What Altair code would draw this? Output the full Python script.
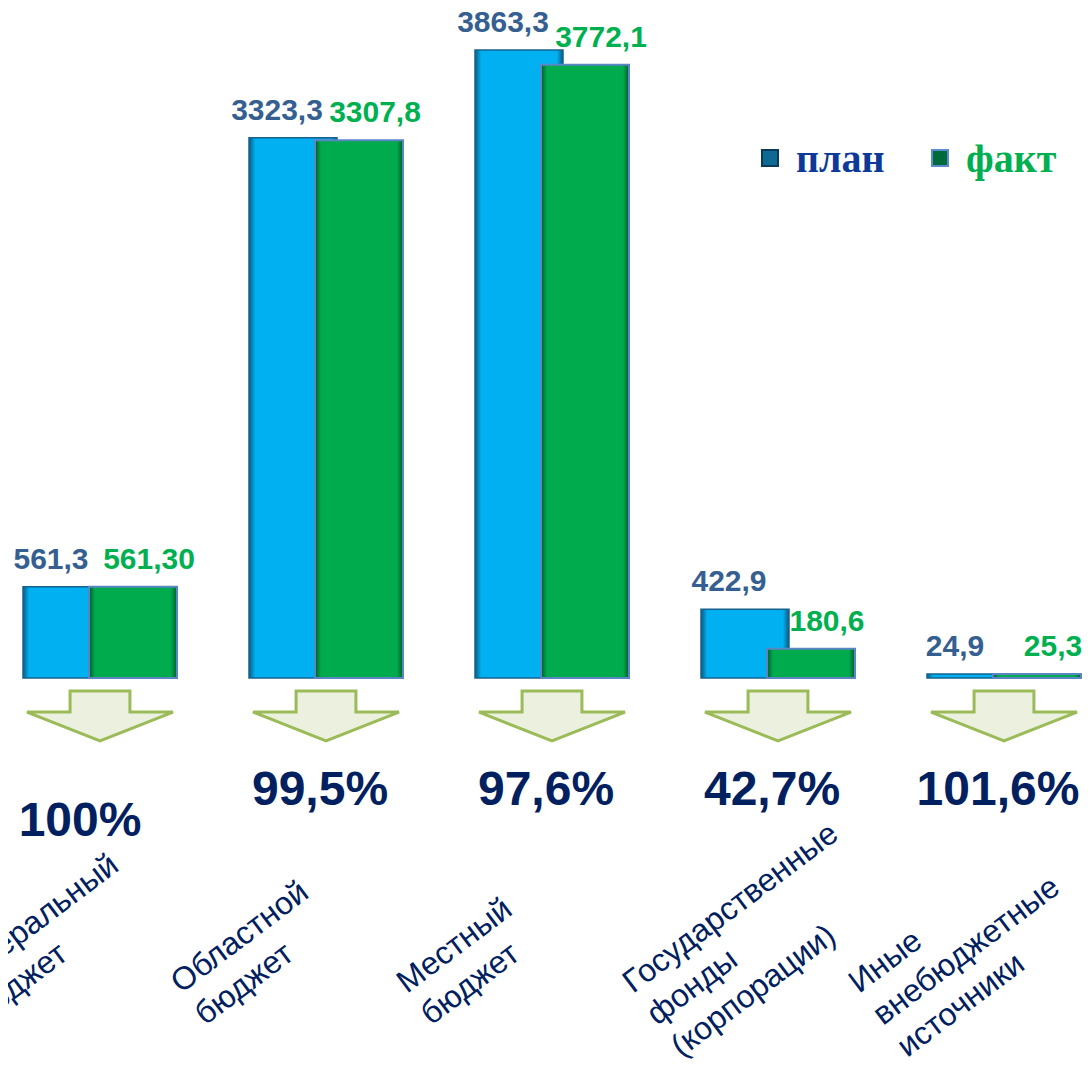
import altair as alt
import pandas as pd

categories = ["Федеральный\nбюджет", "Областной\nбюджет", "Местный\nбюджет",
              "Государственные\nфонды\n(корпорации)", "Иные\nвнебюджетные\nисточники"]
plan = [561.3, 3323.3, 3863.3, 422.9, 24.9]
fact = [561.3, 3307.8, 3772.1, 180.6, 25.3]
plan_labels = ["561,3", "3323,3", "3863,3", "422,9", "24,9"]
fact_labels = ["561,30", "3307,8", "3772,1", "180,6", "25,3"]
percents = ["100%", "99,5%", "97,6%", "42,7%", "101,6%"]
series = ["план", "факт"]

df = pd.DataFrame({
    "cat": categories, "plan": plan, "fact": fact,
    "plan_label": plan_labels, "fact_label": fact_labels,
    "pct": percents, "idx": list(range(len(categories))),
})
leg = pd.DataFrame({"series": series})

xs = alt.X("cat:N", sort=categories,
           scale=alt.Scale(domain=categories, range=[-21, 1109], paddingInner=0, paddingOuter=0),
           axis=None)
ysc = alt.Scale(domain=[0, 4121.5], nice=False, zero=True)

base = alt.Chart(df)


def edge_gradient(edge, mid):
    return alt.Gradient(
        gradient="linear", x1=0, x2=1, y1=0, y2=0,
        stops=[alt.GradientStop(offset=0, color=edge),
               alt.GradientStop(offset=0.07, color=mid),
               alt.GradientStop(offset=0.93, color=mid),
               alt.GradientStop(offset=1, color=edge)])


# bars with an offset are anchored at the band start, so shift by half a band (113)
plan_bar = base.mark_bar(size=88, color=edge_gradient("#0b5a80", "#00b0f0"),
                         stroke="#17618f", strokeWidth=1.5).encode(
    x=xs, xOffset=alt.value(80), y=alt.Y("plan:Q", scale=ysc, axis=None))
fact_bar = base.mark_bar(size=88, color=edge_gradient("#005c2c", "#00ab4e"),
                         stroke="#5b86c6", strokeWidth=2).encode(
    x=xs, xOffset=alt.value(146), y=alt.Y("fact:Q", scale=ysc, axis=None))

plan_text = base.mark_text(font="Liberation Sans", fontWeight="bold", fontSize=30, color="#365f91",
                           baseline="alphabetic", dx=-16, dy=-18).encode(
    x=xs, xOffset=alt.value(-33), y=alt.Y("plan:Q", scale=ysc, axis=None), text="plan_label:N")
fact_text = base.mark_text(font="Liberation Sans", fontWeight="bold", fontSize=30, color="#00b050",
                           baseline="alphabetic", dx=16, dy=-18).encode(
    x=xs, xOffset=alt.value(33), y=alt.Y("fact:Q", scale=ysc, axis=None), text="fact_label:N")

arrow_path = ("M -0.41 -0.342 L 0.41 -0.342 L 0.41 -0.054 L 1 -0.054 L 0 0.342 "
              "L -1 -0.054 L -0.41 -0.054 Z")
arrows = base.mark_point(shape=arrow_path, size=21316, filled=True, fill="#ebf1de",
                         stroke="#9bbb59", strokeWidth=3, opacity=1).encode(
    x=xs, y=alt.value(708))

pct_first = base.transform_filter(alt.datum.idx == 0).mark_text(
    font="Liberation Sans", fontWeight="bold", fontSize=48, color="#002060",
    baseline="alphabetic", dx=-20).encode(x=xs, y=alt.value(828), text="pct:N")
pct_rest = base.transform_filter(alt.datum.idx > 0).mark_text(
    font="Liberation Sans", fontWeight="bold", fontSize=48, color="#002060",
    baseline="alphabetic", dx=-6).encode(x=xs, y=alt.value(797), text="pct:N")

cats = base.transform_calculate(lines="split(datum.cat, '\\n')").mark_text(
    font="Liberation Sans", fontSize=32, color="#002060", align="left",
    baseline="alphabetic", angle=323, lineHeight=40).encode(
    x=xs, xOffset=alt.value(-145), y=alt.value(986), text="lines:N")

leg_x = alt.X("series:N", sort=series,
              scale=alt.Scale(type="point", domain=series, range=[762, 932], padding=0),
              axis=None)
is_plan = "datum.series == 'план'"
leg_sq = alt.Chart(leg).mark_square(size=256, filled=True, opacity=1, strokeWidth=2).encode(
    x=leg_x, y=alt.value(150),
    fill=alt.condition(is_plan, alt.value("#0e6a94"), alt.value("#006b3a")),
    stroke=alt.condition(is_plan, alt.value("#0a3a55"), alt.value("#5b8bd0")))
leg_txt = alt.Chart(leg).mark_text(font="Liberation Serif", fontWeight="bold", fontSize=40,
                                   align="left", baseline="alphabetic", dx=26).encode(
    x=leg_x, y=alt.value(164), text="series:N",
    color=alt.condition(is_plan, alt.value("#0d3a98"), alt.value("#00b050")))

chart = alt.layer(plan_bar, fact_bar, plan_text, fact_text, arrows, pct_first, pct_rest,
                  cats, leg_sq, leg_txt).resolve_scale(x="independent").properties(
    width=1075, height=670,
    autosize=alt.AutoSizeParams(type="none"),
    padding={"left": 0, "top": 0, "right": 0, "bottom": 382},
).configure_view(stroke=None)

chart.save("out.html", embed_options={"renderer": "svg", "actions": False})
